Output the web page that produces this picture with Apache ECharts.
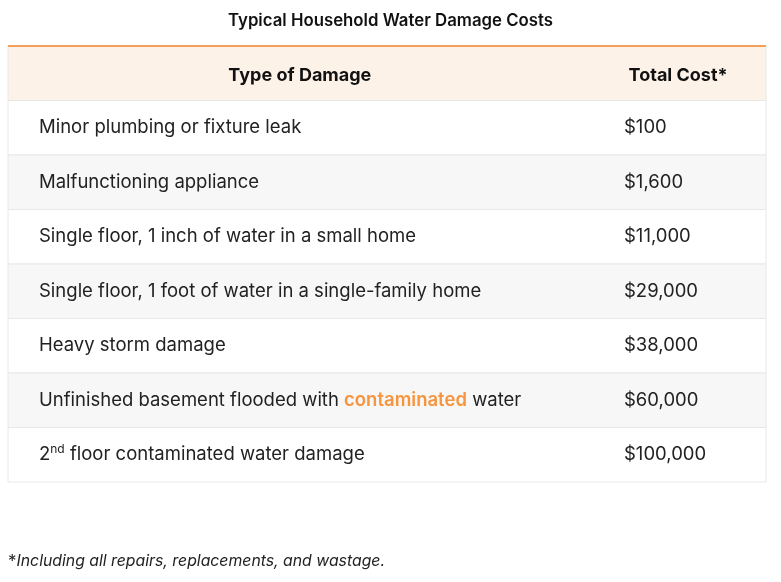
<!DOCTYPE html>
<html><head><meta charset="utf-8">
<script src="https://cdn.jsdelivr.net/npm/echarts@6/dist/echarts.min.js"></script>
<style>html,body{margin:0;background:#fff}#c{width:781px;height:582px}</style>
</head><body><div id="c"></div>
<script>
const title = "Typical Household Water Damage Costs";
const headers = ["Type of Damage", "Total Cost*"];
const damageTypes = [
  "Minor plumbing or fixture leak",
  "Malfunctioning appliance",
  "Single floor, 1 inch of water in a small home",
  "Single floor, 1 foot of water in a single-family home",
  "Heavy storm damage",
  "Unfinished basement flooded with {o|contaminated} water",
  "2{sup|nd} floor contaminated water damage"
];
const costs = ["$100", "$1,600", "$11,000", "$29,000", "$38,000", "$60,000", "$100,000"];
const footnote = "*Including all repairs, replacements, and wastage.";

const rows = ["header"].concat(damageTypes.map((d, i) => "r" + i));
const F = "Inter, 'Noto Sans', sans-serif";
const chart = echarts.init(document.getElementById('c'));
chart.setOption({
  animation: false,
  title: { text: title, left: 'center', top: 7, textStyle: { fontFamily: F, fontSize: 16.8, fontWeight: 600, color: '#111' } },
  graphic: [{ type: 'text', left: 8, top: 553, style: { text: "{s|*}{i|" + footnote.slice(1) + "}", rich: { s: { fontFamily: F, fontSize: 17, fill: '#222' }, i: { fontFamily: F, fontSize: 15.8, fontStyle: 'italic', fill: '#222' } } } }],
  grid: { left: 8, right: 15, top: 46, bottom: 100 },
  xAxis: { type: 'value', min: 0, max: 1, show: false },
  yAxis: { type: 'category', data: rows, inverse: true, show: false },
  series: [{
    type: 'custom',
    data: rows.map((r, i) => [0, i]),
    renderItem: function (params, api) {
      const i = api.value(1);
      const cs = params.coordSys;
      const c = api.coord([0, i]);
      const h = api.size([0, 1])[1];
      const y0 = c[1] - h / 2;
      const children = [];
      const isHead = i === 0;
      const bg = isHead ? '#fdf2e8' : (i % 2 === 0 ? '#f7f7f7' : '#ffffff');
      children.push({ type: 'rect', shape: { x: cs.x, y: y0, width: cs.width, height: h }, style: { fill: bg, stroke: '#e8e8e8', lineWidth: 1 } });
      if (isHead) {
        children.push({ type: 'line', shape: { x1: cs.x, y1: y0, x2: cs.x + cs.width, y2: y0 }, style: { stroke: '#f5a05a', lineWidth: 2 } });
        children.push({ type: 'text', style: { text: headers[0], x: cs.x + cs.width * 0.385, y: c[1] + 2, align: 'center', verticalAlign: 'middle', font: 'bold 18px ' + F, fill: '#111' } });
        children.push({ type: 'text', style: { text: headers[1], x: cs.x + cs.width * 0.884, y: c[1] + 2, align: 'center', verticalAlign: 'middle', font: 'bold 18px ' + F, fill: '#111' } });
      } else {
        children.push({ type: 'text', style: { text: damageTypes[i - 1], x: cs.x + 31, y: c[1], verticalAlign: 'middle', fontFamily: F, fontSize: 18.5, fill: '#222',
          rich: { o: { fontFamily: F, fontSize: 18.5, fontWeight: 600, fill: '#f7953f' }, sup: { fontFamily: F, fontSize: 12, fill: '#222', verticalAlign: 'top', padding: [0, 0, 10, 0] } } } });
        children.push({ type: 'text', style: { text: costs[i - 1], x: cs.x + 616, y: c[1], verticalAlign: 'middle', fontFamily: F, fontSize: 18.5, fill: '#222' } });
      }
      return { type: 'group', children: children };
    }
  }]
});
</script></body></html>
